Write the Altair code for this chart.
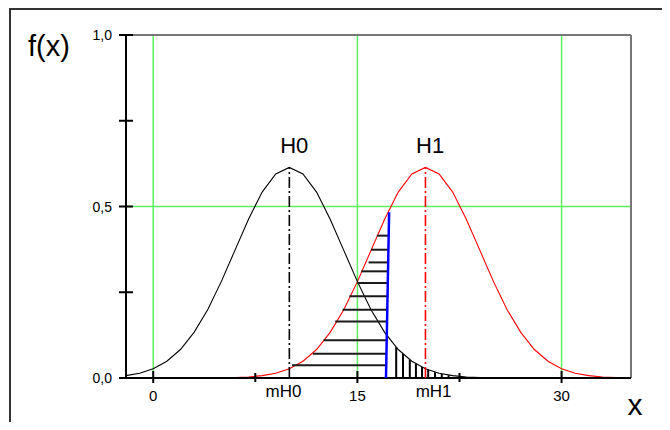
import altair as alt
import pandas as pd

# ---- data ----
x_grid = list(range(-2, 36))
h0_vals = [0.007, 0.014, 0.027, 0.049, 0.083, 0.133, 0.199, 0.281, 0.372, 0.463,
           0.542, 0.595, 0.614, 0.595, 0.542, 0.463, 0.372, 0.281, 0.199, 0.133,
           0.083, 0.049, 0.027, 0.014, 0.007, 0.003, 0.001, 0.0005, 0, 0,
           0, 0, 0, 0, 0, 0, 0, 0]
h1_vals = [0, 0, 0, 0, 0, 0, 0, 0, 0.001, 0.003,
           0.007, 0.014, 0.027, 0.049, 0.083, 0.133, 0.199, 0.281, 0.372, 0.463,
           0.542, 0.595, 0.614, 0.595, 0.542, 0.463, 0.372, 0.281, 0.199, 0.133,
           0.083, 0.049, 0.027, 0.014, 0.007, 0.003, 0.001, 0.0005]

means = [10, 20]
peaks = [0.614, 0.614]
curve_names = ["H0", "H1"]
curve_label_x = [10.36, 20.34]
curve_label_y = [0.657, 0.657]
mean_labels = ["mH0", "mH1"]
mean_label_x = [9.57, 20.6]

# beta region: horizontal hatching
hatch_y = [0.415, 0.374, 0.337, 0.311, 0.277, 0.238, 0.199, 0.165, 0.110, 0.071, 0.037]
hatch_x1 = [16.43, 15.99, 15.82, 15.28, 15.01, 14.41, 13.91, 13.37, 12.52, 11.73, 10.2]
hatch_x2 = [17.30, 17.28, 17.26, 17.25, 17.23, 17.21, 17.19, 17.18, 17.15, 17.13, 17.12]
# alpha region: vertical hatching
vhatch_x = [17.85, 18.35, 18.85, 19.3, 19.75, 20.2, 20.7, 21.2, 21.7]
vhatch_top = [0.090, 0.070, 0.053, 0.041, 0.032, 0.024, 0.017, 0.012, 0.008]
# critical value line
crit_x = [17.1, 17.33]
crit_y = [0.0, 0.483]

x_major = [0, 15, 30]
x_major_labels = ["0", "15", "30"]
x_minor = [7.5, 22.5]
y_ticks = [0, 0.25, 0.5, 0.75, 1.0]
y_label_vals = [0, 0.5, 1.0]
y_labels = ["0,0", "0,5", "1,0"]
green_x = [0, 15, 30]
green_y = [0.5]
x_min, x_max = -2, 35.1

FONT = "Liberation Sans"
GREEN = "#5cf05c"
xs = alt.Scale(domain=[x_min, x_max], nice=False, zero=False)
ys = alt.Scale(domain=[0, 1], nice=False, zero=False)

def X(f):
    return alt.X(f, type="quantitative", scale=xs, axis=None)

def Y(f):
    return alt.Y(f, type="quantitative", scale=ys, axis=None)

curves = pd.DataFrame({"x": x_grid, "h0": h0_vals, "h1": h1_vals})
one = pd.DataFrame({"k": [0]})

# outer frame
frame_left = alt.Chart(one).mark_rule(color="#333", strokeWidth=2).encode(
    x=alt.value(-116), y=alt.value(-27), y2=alt.value(400))
frame_top = alt.Chart(one).mark_rule(color="#333", strokeWidth=2).encode(
    x=alt.value(-116), x2=alt.value(560), y=alt.value(-26))

# green grid
gx = alt.Chart(pd.DataFrame({"g": green_x})).mark_rule(color=GREEN, strokeWidth=1.5).encode(x=X("g"))
gy = alt.Chart(pd.DataFrame({"g": green_y})).mark_rule(color=GREEN, strokeWidth=1.3).encode(y=Y("g"))

# plot borders
top_b = alt.Chart(pd.DataFrame({"v": [1.0]})).mark_rule(color="#777", strokeWidth=2).encode(y=Y("v"))
right_b = alt.Chart(pd.DataFrame({"v": [x_max]})).mark_rule(color="#777", strokeWidth=2).encode(x=X("v"))
left_ax = alt.Chart(pd.DataFrame({"v": [x_min]})).mark_rule(color="black", strokeWidth=2).encode(x=X("v"))
bottom_ax = alt.Chart(pd.DataFrame({"v": [0.0]})).mark_rule(color="black", strokeWidth=2).encode(y=Y("v"))

# ticks
yt = alt.Chart(pd.DataFrame({"v": y_ticks})).mark_rule(color="black", strokeWidth=2).encode(
    y=Y("v"), x=alt.value(-7), x2=alt.value(7))
xt = alt.Chart(pd.DataFrame({"v": x_major})).mark_rule(color="black", strokeWidth=2).encode(
    x=X("v"), y=alt.value(336), y2=alt.value(348))
xm = alt.Chart(pd.DataFrame({"v": x_minor})).mark_rule(color="black", strokeWidth=2).encode(
    x=X("v"), y=alt.value(338), y2=alt.value(347))

# tick labels
ylab = alt.Chart(pd.DataFrame({"v": y_label_vals, "t": y_labels})).mark_text(
    font=FONT, fontSize=14, align="right", baseline="alphabetic", dy=5, color="black").encode(
    y=Y("v"), x=alt.value(-14), text="t:N")
xlab = alt.Chart(pd.DataFrame({"v": x_major, "t": x_major_labels})).mark_text(
    font=FONT, fontSize=15, align="center", baseline="alphabetic", color="black").encode(
    x=X("v"), y=alt.value(366), text="t:N")
mlab = alt.Chart(pd.DataFrame({"v": mean_label_x, "t": mean_labels})).mark_text(
    font=FONT, fontSize=17, align="center", baseline="alphabetic", color="black").encode(
    x=X("v"), y=alt.value(361.5), text="t:N")

# curves
c0 = alt.Chart(curves).mark_line(color="black", strokeWidth=1.1).encode(x=X("x"), y=Y("h0"))
c1 = alt.Chart(curves).mark_line(color="red", strokeWidth=1.1).encode(x=X("x"), y=Y("h1"))

# hatching
hh = alt.Chart(pd.DataFrame({"y": hatch_y, "x1": hatch_x1, "x2": hatch_x2})).mark_rule(
    color="#1a1a1a", strokeWidth=2).encode(x=X("x1"), x2="x2:Q", y=Y("y"))
vh = alt.Chart(pd.DataFrame({"x": vhatch_x, "top": vhatch_top, "b": [0.0] * len(vhatch_x)})).mark_rule(
    color="black", strokeWidth=2).encode(x=X("x"), y=Y("b"), y2="top:Q")

crit = alt.Chart(pd.DataFrame({"x": crit_x, "y": crit_y})).mark_line(
    color="#0000ff", strokeWidth=2.5).encode(x=X("x"), y=Y("y"))

# mean dash-dot lines
mdf = pd.DataFrame({"m": means, "p": peaks, "b": [0.0, 0.0]})
d0 = alt.Chart(mdf.iloc[[0]]).mark_rule(color="black", strokeWidth=1.6, strokeDash=[11, 3, 2, 3]).encode(
    x=X("m"), y=Y("b"), y2="p:Q")
d1 = alt.Chart(mdf.iloc[[1]]).mark_rule(color="red", strokeWidth=1.6, strokeDash=[11, 3, 2, 3]).encode(
    x=X("m"), y=Y("b"), y2="p:Q")

hlab = alt.Chart(pd.DataFrame({"x": curve_label_x, "y": curve_label_y, "t": curve_names})).mark_text(
    font=FONT, fontSize=22, align="center", baseline="alphabetic", color="black").encode(
    x=X("x"), y=Y("y"), text="t:N")

fx = alt.Chart(pd.DataFrame({"t": ["f(x)"]})).mark_text(
    font=FONT, fontSize=29, align="center", baseline="alphabetic", color="black").encode(
    x=alt.value(-77), y=alt.value(20.5), text="t:N")
xl = alt.Chart(pd.DataFrame({"t": ["x"]})).mark_text(
    font=FONT, fontSize=30, align="center", baseline="alphabetic", color="black").encode(
    x=alt.value(509), y=alt.value(380), text="t:N")

chart = alt.layer(
    frame_left, frame_top, gx, gy, top_b, right_b,
    c1, c0, left_ax, bottom_ax, yt, xt, xm,
    hh, vh, crit, d0, d1,
    ylab, xlab, mlab, hlab, fx, xl,
).properties(
    width=505, height=343,
    autosize=alt.AutoSizeParams(type="none"),
    padding={"left": 118, "top": 27, "right": 31, "bottom": 44},
    background="white",
).configure_view(stroke=None)

chart.save("out.html", embed_options={"renderer": "svg", "actions": False})
